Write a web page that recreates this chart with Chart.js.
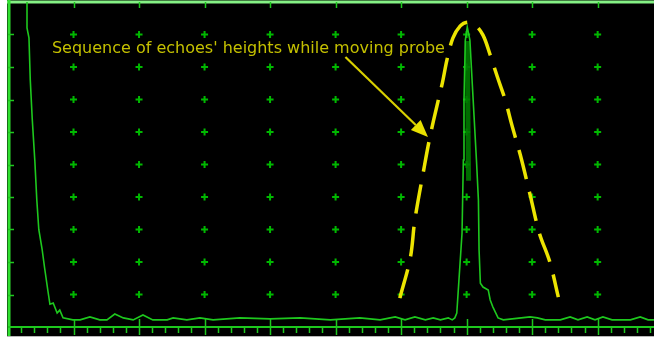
<!DOCTYPE html>
<html>
<head>
<meta charset="utf-8">
<script src="https://cdn.jsdelivr.net/npm/chart.js@4/dist/chart.umd.min.js"></script>
<style>
  html, body { margin: 0; padding: 0; background: #fff; }
  #wrap { width: 654px; height: 340px; }
</style>
</head>
<body>
<div id="wrap"><canvas id="scan" width="654" height="340"></canvas></div>
<script>
// A-scan display: horizontal axis in screen units (10 per division),
// vertical axis in % of full screen height.
const X_MAX = 98.6;

// Received signal (initial pulse, noise floor and the flaw echo)
const traceX = [2.9, 2.9, 3.2, 3.4, 3.7, 4.1, 4.4, 4.7, 5.2, 5.6, 6.1, 6.4, 6.9, 7.5, 7.9, 8.4, 9.9, 11.0, 12.5, 14.0,
  15.1, 16.3, 17.6, 19.1, 20.6, 22.1, 24.3, 25.2, 27.3, 29.3, 31.3, 35.4, 40.0, 44.6, 49.2, 53.7, 56.8,
  59.1, 60.6, 62.1, 63.7, 64.9, 66.0, 67.2, 67.8,
  68.2, 68.5, 68.7, 69.0, 69.3, 69.5, 69.6, 69.8, 70.1, 70.5, 71.0, 71.5, 71.8, 71.9, 72.1, 72.5, 73.3, 73.6, 74.0, 74.8,
  75.6, 79.7, 80.8, 82.0, 84.3, 85.8, 87.0, 88.4, 89.6, 90.8, 92.2, 95.0, 96.5, 97.7, 98.6];
const traceY = [100, 92, 89, 76, 64, 51, 39, 30, 24, 18, 11, 7, 7.4, 4.3, 5.2, 2.8, 2.2, 2.2, 3.1, 2.2,
  2.2, 4.0, 2.8, 2.2, 3.7, 2.2, 2.2, 2.8, 2.2, 2.8, 2.2, 2.8, 2.5, 2.8, 2.2, 2.8, 2.2,
  3.1, 2.2, 3.1, 2.2, 2.8, 2.2, 2.8, 2.2,
  2.8, 4.3, 10.5, 19.7, 28.9, 51.4, 69.8, 88.3, 92.3, 88.3, 69.8, 51.4, 39.1, 23.7, 13.5, 12.3, 11.4, 8.3, 6.2, 2.8,
  2.2, 3.1, 2.8, 2.2, 2.2, 3.1, 2.2, 3.1, 2.2, 3.1, 2.2, 2.2, 3.1, 2.2, 2.2];

// Inner, darker part of the echo
const coreX = [70.1, 70.3];
const coreY = [88, 45];

// Envelope of echo heights while the probe is moved
const envelopeX = [59.8, 61.4, 62.1, 63.5, 64.4, 65.5, 66.3, 67.0, 67.9, 69.0, 70.1, 71.3, 72.5, 73.6, 74.7, 75.9, 76.9, 78.2, 79.7, 81.1, 82.7, 84.0];
const envelopeY = [8.9, 21.2, 32.9, 48.9, 58.5, 68.3, 75.1, 82.2, 88.9, 92.6, 93.8, 92.9, 89.8, 83.7, 76.9, 69.8, 62.2, 52.9, 40.6, 28.9, 20.0, 9.2];

// Graticule
const gridX = [10, 20, 30, 40, 50, 60, 70, 80, 90];
const gridY = [10, 20, 30, 40, 50, 60, 70, 80, 90];
const minorStep = 2;

// Annotation
const noteText = "Sequence of echoes' heights while moving probe";
const noteAt = [6.7, 85.5];
const arrowFrom = [51.5, 83.1];
const arrowTo = [64.1, 58.5];

const GREEN = '#1ec81e';
const DOT = '#00b800';
const YELLOW = '#ece400';
const NOTE = '#c4c000';

const toPts = (xs, ys) => xs.map((x, i) => ({ x, y: ys[i] }));
const gridPts = [];
gridX.forEach(x => gridY.forEach(y => gridPts.push({ x, y })));

const screenPlugin = {
  id: 'screen',
  beforeDraw(chart) {
    const { ctx, width, height } = chart;
    ctx.save();
    ctx.fillStyle = '#ffffff';
    ctx.fillRect(0, 0, width, height);
    ctx.fillStyle = '#000000';
    ctx.fillRect(7, 0, width - 7, 336);
    ctx.fillStyle = '#b8b8b8';
    ctx.fillRect(7, 336, width - 7, 1);
    ctx.restore();
  },
  beforeDatasetsDraw(chart) {
    const { ctx, chartArea: a, scales: { x, y } } = chart;
    ctx.save();
    // frame
    ctx.strokeStyle = '#84f084';
    ctx.lineWidth = 3;
    ctx.beginPath(); ctx.moveTo(7, a.top); ctx.lineTo(a.right, a.top); ctx.stroke();
    ctx.strokeStyle = '#30e030';
    ctx.beginPath(); ctx.moveTo(a.left + 1, 0); ctx.lineTo(a.left + 1, 336); ctx.stroke();
    // baseline
    ctx.strokeStyle = GREEN;
    ctx.lineWidth = 2;
    const y0 = y.getPixelForValue(0);
    ctx.beginPath(); ctx.moveTo(a.left, y0); ctx.lineTo(a.right, y0); ctx.stroke();
    // ticks on the baseline
    ctx.lineWidth = 1.5;
    for (let v = minorStep; v <= X_MAX; v += minorStep) {
      const px = Math.round(x.getPixelForValue(v)) + 0.5;
      const major = Math.abs(v % 10) < 1e-6;
      ctx.beginPath();
      ctx.moveTo(px, major ? y0 - 8 : y0);
      ctx.lineTo(px, major ? y0 + 8 : y0 + 6);
      ctx.stroke();
    }
    // ticks on top and left frame
    gridX.forEach(v => {
      const px = Math.round(x.getPixelForValue(v)) + 0.5;
      ctx.beginPath(); ctx.moveTo(px, a.top); ctx.lineTo(px, a.top + 6); ctx.stroke();
    });
    gridY.forEach(v => {
      const py = Math.round(y.getPixelForValue(v)) + 0.5;
      ctx.beginPath(); ctx.moveTo(a.left, py); ctx.lineTo(a.left + 6, py); ctx.stroke();
    });
    ctx.restore();
  },
  afterDatasetsDraw(chart) {
    const { ctx, scales: { x, y } } = chart;
    ctx.save();
    ctx.fillStyle = NOTE;
    ctx.font = '16px "DejaVu Sans"';
    ctx.textBaseline = 'middle';
    ctx.fillText(noteText, x.getPixelForValue(noteAt[0]), y.getPixelForValue(noteAt[1]));
    // arrow
    const x1 = x.getPixelForValue(arrowFrom[0]), y1 = y.getPixelForValue(arrowFrom[1]);
    const x2 = x.getPixelForValue(arrowTo[0]), y2 = y.getPixelForValue(arrowTo[1]);
    const ang = Math.atan2(y2 - y1, x2 - x1);
    const len = 17, half = 7;
    const bx = x2 - len * Math.cos(ang), by = y2 - len * Math.sin(ang);
    ctx.strokeStyle = '#d8d000';
    ctx.fillStyle = '#e8e000';
    ctx.lineWidth = 2.2;
    ctx.beginPath(); ctx.moveTo(x1, y1); ctx.lineTo(bx, by); ctx.stroke();
    ctx.beginPath();
    ctx.moveTo(x2, y2);
    ctx.lineTo(bx + half * Math.sin(ang), by - half * Math.cos(ang));
    ctx.lineTo(bx - half * Math.sin(ang), by + half * Math.cos(ang));
    ctx.closePath();
    ctx.fill();
    ctx.restore();
  }
};

new Chart(document.getElementById('scan'), {
  type: 'scatter',
  data: {
    datasets: [
      {
        label: 'envelope', data: toPts(envelopeX, envelopeY), showLine: true, order: 0,
        borderColor: YELLOW, borderWidth: 3.5, borderDash: [30, 13], borderCapStyle: 'butt',
        tension: 0.35, pointRadius: 0, pointHoverRadius: 0, clip: false
      },
      {
        label: 'signal', data: toPts(traceX, traceY), showLine: true, order: 1,
        borderColor: GREEN, borderWidth: 1.6, tension: 0, pointRadius: 0, pointHoverRadius: 0
      },
      {
        label: 'core', data: toPts(coreX, coreY), showLine: true, order: 2,
        borderColor: 'rgba(0,120,0,0.9)', borderWidth: 5, pointRadius: 0, pointHoverRadius: 0
      },
      {
        label: 'graticule', data: gridPts, order: 3,
        pointStyle: 'cross', pointRadius: 3.5, pointHoverRadius: 0, borderWidth: 2,
        borderColor: DOT, backgroundColor: DOT
      }
    ]
  },
  options: {
    responsive: false,
    animation: false,
    devicePixelRatio: 1,
    layout: { autoPadding: false, padding: { left: 8, top: 2, right: 0, bottom: 13 } },
    plugins: { legend: { display: false }, tooltip: { enabled: false } },
    events: [],
    scales: {
      x: { type: 'linear', min: 0, max: X_MAX, display: false },
      y: { type: 'linear', min: 0, max: 100, display: false }
    }
  },
  plugins: [screenPlugin]
});
</script>
</body>
</html>
